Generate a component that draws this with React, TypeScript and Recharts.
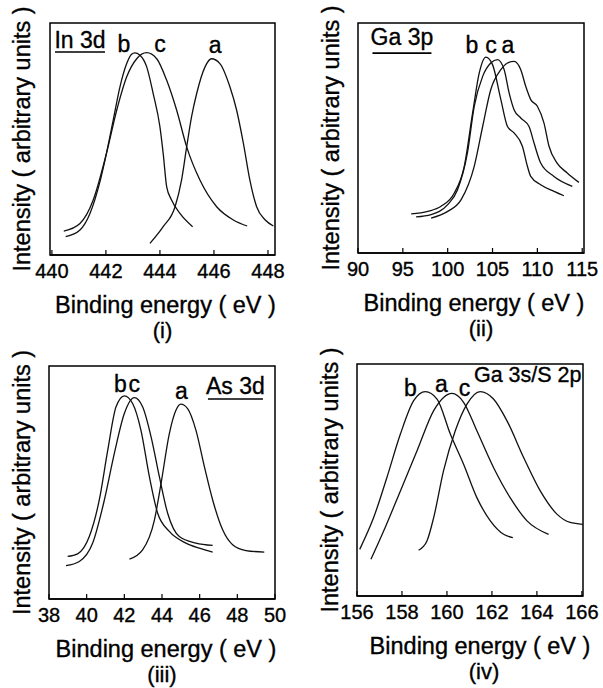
import React from 'react';
import { LineChart, Line, XAxis, YAxis, ReferenceArea, ReferenceDot } from 'recharts';

const FONT = '"Liberation Sans", Arial, Helvetica, sans-serif';

// binding energy (eV), intensity (0-100, arbitrary)
const in3dA = [[443.63, 5], [444.12, 12.2], [444.56, 20.8], [444.8, 32.3], [444.99, 46.6], [445.17, 59.5], [445.36, 69.6], [445.67, 81.1], [445.91, 84.6], [446.22, 82.5], [446.59, 72.5], [446.84, 62.4], [447.09, 48.1], [447.33, 32.3], [447.58, 20.8], [447.9, 15.1], [448.2, 12.5]];
const in3dB = [[440.51, 7.9], [441.04, 10.8], [441.41, 17.9], [441.78, 31.6], [442.02, 43.8], [442.27, 58.1], [442.52, 72.5], [442.77, 82.5], [442.95, 86.5], [443.07, 87.1], [443.26, 86.1], [443.51, 81.1], [443.75, 69.6], [444.0, 55.2], [444.12, 43.8], [444.25, 29.4], [444.43, 23.7], [444.74, 17.9], [445.21, 12.2]];
const in3dC = [[440.44, 10.3], [441.04, 13.6], [441.53, 23.7], [442.02, 43.8], [442.4, 62.4], [442.77, 76.8], [443.14, 84.6], [443.51, 87.2], [443.88, 84.6], [444.25, 75.3], [444.62, 62.4], [444.99, 46.6], [445.48, 32.3], [446.1, 20.8], [446.72, 15.1], [447.23, 12.5]];

const ga3pA = [[98.15, 15.2], [100, 18.1], [101.5, 23.2], [102.96, 37.7], [103.9, 55], [104.8, 71], [105.93, 79.7], [106.67, 82.6], [107.4, 83.3], [108.15, 79.7], [108.7, 72.5], [109.26, 66.7], [110, 63.8], [110.74, 56.5], [111.3, 46.4], [112.2, 39.1], [113.33, 34.8], [114.63, 30.7]];
const ga3pB = [[95.93, 17], [97.78, 18.1], [99.26, 20.3], [100.74, 26.1], [101.85, 37.7], [102.78, 60.9], [103.52, 78.3], [104.26, 85.2], [105, 81.9], [105.93, 66.7], [106.67, 55], [107.4, 52.2], [108.33, 46.4], [108.89, 37.7], [109.26, 33.3], [110.37, 29.7], [111.85, 26.8], [112.96, 24.9]];
const ga3pC = [[96.48, 15.7], [98.15, 16.7], [100, 21], [101.1, 27.5], [102.2, 43.5], [102.96, 63.8], [103.9, 76.8], [104.8, 82.6], [105.56, 84.1], [106.3, 79.7], [106.85, 69.6], [107.4, 62.3], [108.15, 58.7], [109.07, 55], [109.63, 47.8], [110.37, 39.1], [111.85, 33.3], [113.9, 29]];

const as3dA = [[42.27, 17.1], [42.97, 21.1], [43.6, 34], [43.95, 49.6], [44.39, 71], [44.74, 81], [45, 83.6], [45.36, 81.7], [45.8, 72.5], [46.25, 56.8], [46.69, 42.5], [47.22, 29.7], [47.75, 23.3], [48.46, 20.8], [49.43, 20.1]];
const as3dB = [[38.99, 18.3], [39.52, 19.4], [40.14, 26.8], [40.67, 42.5], [41.12, 63.9], [41.56, 82.5], [42, 87.2], [42.44, 83.9], [42.88, 72.5], [43.33, 52.5], [43.77, 36.8], [44.39, 29], [45.27, 24], [45.98, 21.8], [46.69, 20.1]];
const as3dC = [[38.9, 14.3], [39.61, 16.1], [40.32, 24], [40.94, 42.5], [41.47, 62.5], [42, 79.6], [42.53, 86.4], [42.97, 82.5], [43.42, 69.6], [43.86, 52.5], [44.3, 36.8], [44.92, 26.8], [45.8, 24], [46.69, 23]];

const ga3sA = [[156.62, 15.8], [157.19, 28.1], [157.93, 45.3], [158.67, 62.6], [159.41, 79.9], [159.85, 85.6], [160.22, 87.3], [160.74, 83.5], [161.33, 71.2], [162.07, 55.4], [162.81, 42.4], [163.56, 32.4], [164.52, 26.6]];
const ga3sB = [[156.12, 20.1], [156.74, 33.8], [157.33, 51.1], [157.93, 69.8], [158.52, 84.2], [159.04, 88.1], [159.56, 84.9], [160.15, 69.8], [160.74, 56.8], [161.33, 42.4], [161.93, 32.4], [162.52, 26.6], [162.93, 25.2]];
const ga3sC = [[158.74, 19.7], [159.11, 23.7], [159.41, 33.8], [159.85, 54], [160.37, 71.2], [160.89, 82.7], [161.48, 88.1], [162.07, 84.9], [162.67, 75.5], [163.41, 59.7], [164.15, 45.3], [164.89, 35.3], [165.48, 31.7], [166.04, 30.9]];

const ticksI = [440, 442, 444, 446, 448];
const ticksII = [90, 95, 100, 105, 110, 115];
const ticksIII = [38, 40, 42, 44, 46, 48, 50];
const ticksIV = [156, 158, 160, 162, 164, 166];

// annotation text and where it sits (data coords)
const notesI = [
  { text: 'In 3d', x: 441.04, y: 89.2, underline: 50, ul: 4 },
  { text: 'b', x: 442.67, y: 87.5 },
  { text: 'c', x: 444.0, y: 87.5 },
  { text: 'a', x: 446.04, y: 87.1 },
];
const notesII = [
  { text: 'Ga 3p', x: 94.9, y: 90.4, underline: 59, ul: 8 },
  { text: 'b', x: 102.7, y: 87 },
  { text: 'c', x: 104.83, y: 87 },
  { text: 'a', x: 106.72, y: 87 },
];
const notesIII = [
  { text: 'As 3d', x: 47.9, y: 88, underline: 55, ul: 5 },
  { text: 'b', x: 41.79, y: 88.9 },
  { text: 'c', x: 42.53, y: 88.9 },
  { text: 'a', x: 45.03, y: 85.9 },
];
const notesIV = [
  { text: 'Ga 3s/S 2p', x: 161.2, y: 92.2, anchor: 'start', size: 21.5 },
  { text: 'b', x: 158.37, y: 86.2 },
  { text: 'a', x: 159.75, y: 87.9 },
  { text: 'c', x: 160.78, y: 86.2 },
];

const toPts = (arr: number[][]) => arr.map(([x, y]) => ({ x, y }));

type Note = { text: string; x: number; y: number; underline?: number; ul?: number; anchor?: string; size?: number };

const panels = [
  { sub: '(i)', left: 0, top: 0, width: 300, yw: 50, margin: { top: 23, right: 25, left: 0, bottom: 59 }, domain: [439.93, 448.26], ticks: ticksI, series: [in3dA, in3dB, in3dC], notes: notesI, yDx: -3, xDx: 3, subDx: 0 },
  { sub: '(ii)', left: 300, top: 0, width: 303, yw: 58, margin: { top: 23, right: 19, left: 0, bottom: 61 }, domain: [90, 115.2], ticks: ticksII, series: [ga3pA, ga3pB, ga3pC], notes: notesII, yDx: 2, xDx: 3, subDx: 10 },
  { sub: '(iii)', left: 0, top: 344, width: 300, yw: 49, margin: { top: 22, right: 25, left: 0, bottom: 59 }, domain: [38, 50], ticks: ticksIII, series: [as3dA, as3dB, as3dC], notes: notesIII, yDx: -3, xDx: 4, subDx: 0 },
  { sub: '(iv)', left: 300, top: 344, width: 303, yw: 57, margin: { top: 20, right: 20, left: 0, bottom: 62 }, domain: [156, 166.05], ticks: ticksIV, series: [ga3sA, ga3sB, ga3sC], notes: notesIV, yDx: 1, xDx: 10, subDx: 14 },
];

const INK = { fill: '#000', stroke: '#000', strokeWidth: 0.35 };

const noteShape = (n: Note) => (props: any) => {
  const { cx, cy } = props;
  return (
    <g>
      <text x={cx} y={cy} textAnchor={n.anchor || 'middle'} fontSize={n.size || 23} fontFamily={FONT} {...INK}>{n.text}</text>
      {n.underline ? (
        <line x1={cx - n.underline / 2} x2={cx + n.underline / 2} y1={cy + (n.ul || 4)} y2={cy + (n.ul || 4)} stroke="#000" strokeWidth={1.6} />
      ) : null}
    </g>
  );
};

const xTitle = (sub: string, dx: number, subDx: number) => (props: any) => {
  const vb = props.viewBox || {};
  const cx = vb.x + vb.width / 2;
  const top = vb.y;
  return (
    <g>
      <text x={cx + dx} y={top + 58} textAnchor="middle" fontSize={23.5} fontFamily={FONT} {...INK}>Binding energy ( eV )</text>
      <text x={cx + subDx} y={top + 83} textAnchor="middle" fontSize={22} fontFamily={FONT} {...INK}>{sub}</text>
    </g>
  );
};

export default function App() {
  return (
    <div style={{ position: 'absolute', left: 0, top: 0, width: 603, height: 688, background: '#fff' }}>
      {panels.map((p) => (
        <div key={p.sub} style={{ position: 'absolute', left: p.left, top: p.top }}>
          <LineChart width={p.width} height={344} margin={p.margin}>
            <XAxis
              type="number"
              dataKey="x"
              domain={p.domain}
              ticks={p.ticks}
              interval={0}
              allowDataOverflow
              height={30}
              tickSize={-5}
              tickMargin={14}
              axisLine={{ stroke: '#000', strokeWidth: 1.5 }}
              tickLine={{ stroke: '#000', strokeWidth: 1.2 }}
              tick={{ ...INK, fontSize: 20, fontFamily: FONT }}
              label={xTitle(p.sub, p.xDx, p.subDx)}
            />
            <YAxis
              type="number"
              domain={[0, 100]}
              allowDataOverflow
              width={p.yw}
              tick={false}
              tickLine={false}
              axisLine={false}
              label={{ value: 'Intensity ( arbitrary units )', angle: -90, position: 'center', dx: p.yDx, ...INK, fontSize: 23.5, fontFamily: FONT }}
            />
            <ReferenceArea x1={p.domain[0]} x2={p.domain[1]} y1={0} y2={100} fill="none" stroke="#000" strokeWidth={1.5} ifOverflow="visible" />
            {p.series.map((s, i) => (
              <Line key={i} data={toPts(s)} dataKey="y" type="monotone" stroke="#111" strokeWidth={1.3} dot={false} isAnimationActive={false} />
            ))}
            {p.notes.map((n: Note, i) => (
              <ReferenceDot key={'n' + i} x={n.x} y={n.y} r={0} shape={noteShape(n)} />
            ))}
          </LineChart>
        </div>
      ))}
    </div>
  );
}
